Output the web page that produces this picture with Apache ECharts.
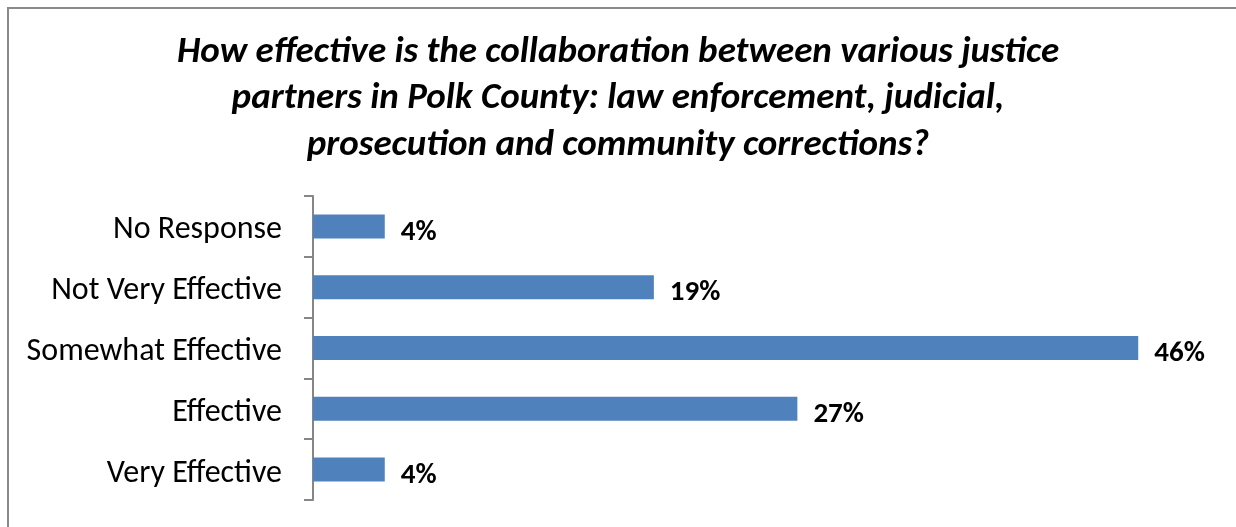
<!DOCTYPE html>
<html>
<head>
<meta charset="utf-8">
<script src="https://cdn.jsdelivr.net/npm/echarts@6/dist/echarts.min.js"></script>
<style>
  html, body { margin: 0; padding: 0; background: #ffffff; }
  #chart { width: 1236px; height: 527px; }
</style>
</head>
<body>
<div id="chart"></div>
<script>
// Survey responses, listed top to bottom as shown
const categories = ['No Response', 'Not Very Effective', 'Somewhat Effective', 'Effective', 'Very Effective'];
const percentages = [4, 19, 46, 27, 4];
const titleLines = [
  'How effective is the collaboration between various justice',
  'partners in Polk County: law enforcement, judicial,',
  'prosecution and community corrections?'
];

const FONT = 'Carlito, Lato, "Liberation Sans", sans-serif';

const chart = echarts.init(document.getElementById('chart'), null, { renderer: 'canvas' });

chart.setOption({
  animation: false,
  backgroundColor: '#ffffff',
  title: {
    text: titleLines.join('\n'),
    left: 'center',
    top: 29,
    padding: 0,
    textStyle: {
      fontFamily: FONT,
      fontStyle: 'italic',
      fontWeight: 'bold',
      fontSize: 37,
      lineHeight: 46.5,
      color: '#000000'
    }
  },
  graphic: [{
    type: 'rect',
    shape: { x: 8, y: 8, width: 1300, height: 600 },
    style: { fill: null, stroke: '#8a8a8a', lineWidth: 2 },
    silent: true,
    z: -1
  }],
  grid: { left: 313, right: 26, top: 196, bottom: 27, containLabel: false },
  xAxis: {
    type: 'value',
    min: 0,
    max: 50,
    show: false
  },
  yAxis: {
    type: 'category',
    data: categories,
    inverse: true,
    axisLine: { show: true, lineStyle: { color: '#868686', width: 2 } },
    axisTick: { show: true, length: 9, inside: false, lineStyle: { color: '#868686', width: 2 } },
    axisLabel: {
      margin: 31,
      fontFamily: FONT,
      fontSize: 32,
      verticalAlign: 'top',
      lineHeight: 8,
      color: '#000000'
    },
    splitLine: { show: false }
  },
  series: [{
    type: 'bar',
    data: percentages,
    barWidth: 24,
    itemStyle: { color: '#4F81BD' },
    label: {
      show: true,
      position: 'right',
      distance: 16,
      formatter: p => p.value + '%',
      fontFamily: FONT,
      fontWeight: 'bold',
      fontSize: 29,
      verticalAlign: 'top',
      lineHeight: 12,
      color: '#000000'
    }
  }]
});
</script>
</body>
</html>
